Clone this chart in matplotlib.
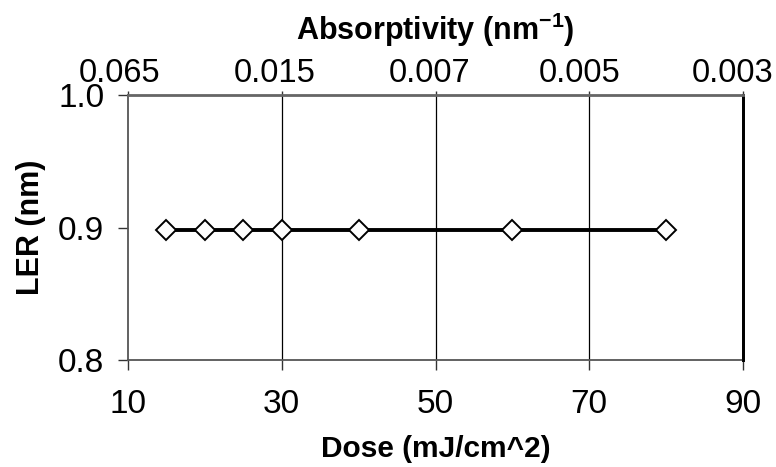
import matplotlib
matplotlib.use("Agg")
import matplotlib.pyplot as plt
from matplotlib.transforms import ScaledTranslation

dose = [15, 20, 25, 30, 40, 60, 80]
ler = [0.898, 0.898, 0.898, 0.898, 0.898, 0.898, 0.898]
x_ticks = [10, 30, 50, 70, 90]
top_labels = ["0.065", "0.015", "0.007", "0.005", "0.003"]
y_ticks = [0.8, 0.9, 1.0]

plt.rcParams['font.family'] = ['Liberation Sans', 'DejaVu Sans']
plt.rcParams['mathtext.fontset'] = 'custom'
plt.rcParams['mathtext.rm'] = 'Liberation Sans'
plt.rcParams['mathtext.bf'] = 'Liberation Sans:bold'

fig = plt.figure(figsize=(7.76, 4.67), dpi=100)
ax = fig.add_axes([128/776, 1 - 360/467, (743-128)/776, (360-95)/467])

ax.set_xlim(10, 90)
ax.set_ylim(0.8, 1.0)
ax.set_xticks(x_ticks)
ax.set_yticks(y_ticks)
ax.set_yticklabels([f"{v:.1f}" for v in y_ticks])
for xv in x_ticks[1:]:
    ax.axvline(xv, color='black', lw=0.9, zorder=1)

ax.plot(dose, ler, color='black', lw=2.8, marker='D', ms=10,
        mfc='white', mec='black', mew=1.4, zorder=3, clip_on=False)

ax.tick_params(axis='both', labelsize=24, direction='out', length=7, width=1, color='#333333')
ax.tick_params(axis='x', pad=14)
ax.tick_params(axis='y', pad=10)
ax.set_xlabel("Dose (mJ/cm^2)", fontsize=21.5, fontweight='bold', labelpad=11)
ax.set_ylabel("LER (nm)", fontsize=22, fontweight='bold', labelpad=9)

for s in ['left', 'bottom']:
    ax.spines[s].set_color('#555555')
    ax.spines[s].set_linewidth(1.3)
ax.spines['right'].set_color('black')
ax.spines['right'].set_linewidth(2)

ax2 = ax.twiny()
ax2.set_xlim(ax.get_xlim())
ax2.set_xticks(x_ticks)
ax2.set_xticklabels(top_labels)
ax2.tick_params(axis='x', labelsize=23.5, direction='out', length=3, width=1, pad=1, color='#333333')
shifts = [-8, -7, -6, -10, -10]
for lab, dx in zip(ax2.get_xticklabels(), shifts):
    lab.set_transform(lab.get_transform() + ScaledTranslation(dx/100, 0, fig.dpi_scale_trans))
ax2.set_xlabel("Absorptivity (nm$^{\\mathbf{-1}}$)", fontsize=22, fontweight='bold', labelpad=13)
ax2.spines['top'].set_color('#666666')
ax2.spines['top'].set_linewidth(2)
ax2.spines['right'].set_color('black')
ax2.spines['right'].set_linewidth(2)
for s in ['left', 'bottom']:
    ax2.spines[s].set_visible(False)

fig.savefig("out.png", dpi=100)
